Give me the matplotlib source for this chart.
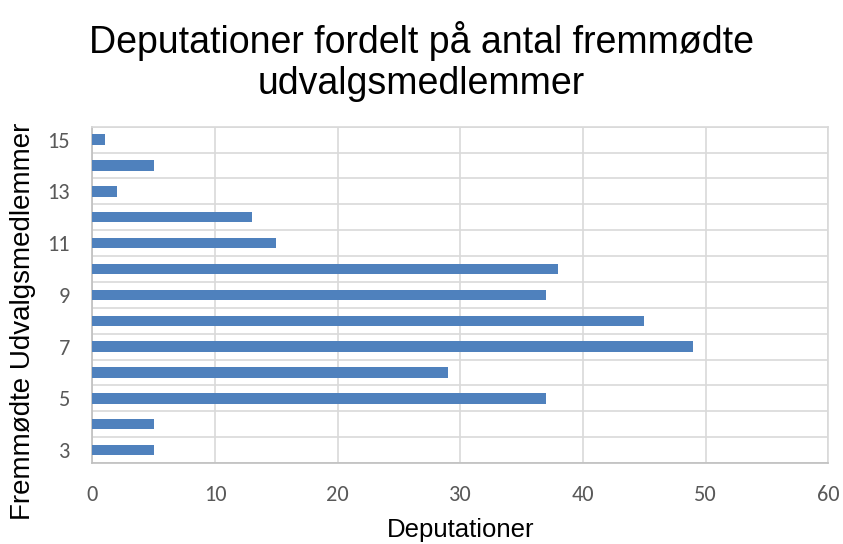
import matplotlib
matplotlib.use("Agg")
import matplotlib.pyplot as plt
from matplotlib.ticker import MultipleLocator, FixedLocator

categories = [3, 4, 5, 6, 7, 8, 9, 10, 11, 12, 13, 14, 15]
values = [5, 5, 37, 29, 49, 45, 37, 38, 15, 13, 2, 5, 1]
ytick_labels = ["3", "5", "7", "9", "11", "13", "15"]
ytick_pos = [3, 5, 7, 9, 11, 13, 15]
title_lines = ["Deputationer fordelt på antal fremmødte", "udvalgsmedlemmer"]
xlabel = "Deputationer"
ylabel = "Fremmødte Udvalgsmedlemmer"

W, H = 843, 544
fig = plt.figure(figsize=(W / 100, H / 100), dpi=100)
ax = fig.add_axes([92.3 / W, 1 - 463 / H, (828.3 - 92.3) / W, (463 - 126.7) / H])

ax.barh(categories, values, height=0.4, color="#4f81bd", zorder=3)
ax.set_xlim(0, 60)
ax.set_ylim(2.5, 15.5)
ax.xaxis.set_major_locator(MultipleLocator(10))
ax.yaxis.set_major_locator(FixedLocator(ytick_pos))
ax.set_yticklabels(ytick_labels)
ax.yaxis.set_minor_locator(FixedLocator([c + 0.5 for c in range(2, 16)]))
ax.grid(True, axis="x", which="major", color="#d9d9d9", lw=1.2, zorder=0)
ax.grid(True, axis="y", which="minor", color="#d9d9d9", lw=1.2, zorder=0)
ax.tick_params(which="both", length=0)
ax.tick_params(axis="x", pad=16, labelsize=16, labelcolor="#595959")
ax.tick_params(axis="y", pad=16, labelsize=16, labelcolor="#595959")
for lab in ax.get_xticklabels() + ax.get_yticklabels():
    lab.set_family(["Carlito", "Open Sans", "DejaVu Sans"])
for s in ["left", "bottom", "top", "right"]:
    ax.spines[s].set_color("#d9d9d9")
    ax.spines[s].set_linewidth(1.2)
ax.spines["left"].set_color("#bfbfbf")
ax.spines["bottom"].set_color("#bfbfbf")

fam = ["Liberation Sans", "DejaVu Sans"]
fig.text(461 / W, 1 - 537 / H, xlabel, ha="center", va="baseline", fontsize=18.5, family=fam)
fig.text(23 / W, 1 - 321 / H, ylabel, ha="center", va="center", rotation=90, fontsize=20, family=fam)
fig.text(421.5 / W, 1 - 53 / H, title_lines[0], ha="center", va="baseline", fontsize=27, family=fam)
fig.text(421.5 / W, 1 - 94 / H, title_lines[1], ha="center", va="baseline", fontsize=27, family=fam)

fig.savefig("out.png", dpi=100)
